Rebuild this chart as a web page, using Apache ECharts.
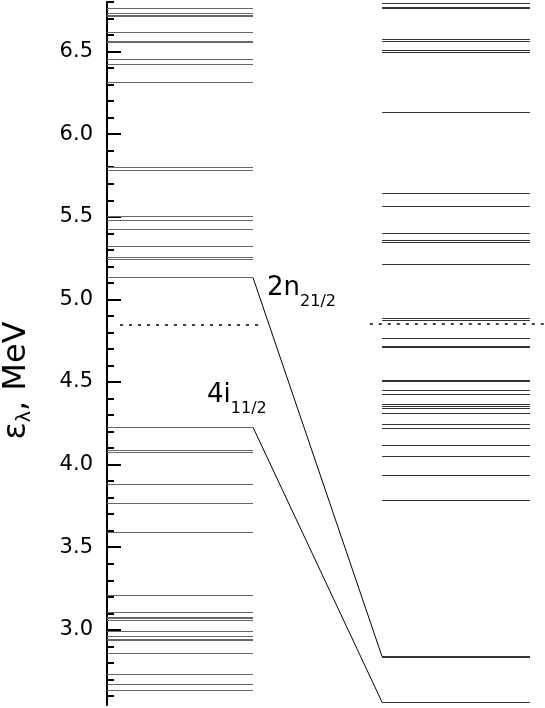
<!DOCTYPE html>
<html>
<head>
<meta charset="utf-8">
<script src="https://cdn.jsdelivr.net/npm/echarts@6/dist/echarts.min.js"></script>
<style>
html, body { margin: 0; padding: 0; background: #fff; }
#chart { width: 545px; height: 708px; }
</style>
</head>
<body>
<div id="chart"></div>
<script>
// single-particle level energies, MeV
const leftLevels = [6.763, 6.730, 6.720, 6.716, 6.617, 6.565, 6.558, 6.454, 6.424, 6.312,
  5.800, 5.784, 5.501, 5.479, 5.425, 5.323, 5.255, 5.241, 5.132, 4.226, 4.085, 4.073,
  3.881, 3.766, 3.591, 3.210, 3.107, 3.077, 3.071, 3.056, 2.992, 2.963, 2.940, 2.934,
  2.858, 2.731, 2.671, 2.636];
const rightLevels = [6.795, 6.768, 6.762, 6.575, 6.563, 6.510, 6.498, 6.135, 5.640, 5.562,
  5.403, 5.356, 5.346, 5.211, 4.886, 4.876, 4.763, 4.716, 4.712, 4.509, 4.505, 4.452,
  4.424, 4.367, 4.355, 4.341, 4.309, 4.245, 4.218, 4.117, 4.053, 3.938, 3.782, 2.842,
  2.835, 2.562];
const fermiLevels = [4.845, 4.853];          // left, right
const transitions = [[5.132, 2.838], [4.226, 2.562]];
const stateNames = ['2n', '4i'];
const stateSubs = ['21/2', '11/2'];
const stateLabelE = [5.07, 4.42];
const majorTicks = [3.0, 3.5, 4.0, 4.5, 5.0, 5.5, 6.0, 6.5];
const minorTicks = [2.6, 2.7, 2.8, 2.9, 3.0, 3.1, 3.2, 3.3, 3.4, 3.5, 3.6, 3.7, 3.8, 3.9,
  4.0, 4.1, 4.2, 4.3, 4.4, 4.5, 4.6, 4.7, 4.8, 4.9, 5.0, 5.1, 5.2, 5.3, 5.4, 5.5, 5.6,
  5.7, 5.8, 5.9, 6.0, 6.1, 6.2, 6.3, 6.4, 6.5, 6.6, 6.7, 6.8];

// layout (x in column units)
const colL = [0.0, 1.0], colR = [1.884, 2.897];
const fermiL = [0.089, 1.06], fermiR = [1.80, 3.0];
const labelX = [1.096, 0.685];
const FONT = 'DejaVu Sans';

function hline(levels, x) {
  return levels.map(e => ({ coords: [[x[0], e], [x[1], e]] }));
}

const chart = echarts.init(document.getElementById('chart'));
chart.setOption({
  animation: false,
  grid: { left: 107, right: 0, top: 2, bottom: 3, outerBoundsMode: 'none' },
  xAxis: { type: 'value', min: 0, max: 3, show: false },
  yAxis: [{
    type: 'value', min: 2.545, max: 6.8, position: 'left',
    axisLine: { show: true, lineStyle: { color: '#000', width: 2 } },
    axisTick: { show: true, inside: true, length: 14, customValues: majorTicks,
      lineStyle: { color: '#000', width: 2 } },
    axisLabel: { show: true, customValues: majorTicks, formatter: v => v.toFixed(1),
      fontFamily: FONT, fontSize: 21, color: '#000', margin: 14 },
    splitLine: { show: false },
    name: '{e|ε}{l|λ}{e|, MeV}',
    nameLocation: 'middle', nameRotate: 90, nameGap: 72,
    nameTextStyle: {
      padding: [0, 54, 0, 0],
      rich: {
        e: { fontFamily: FONT, fontSize: 32, color: '#000' },
        l: { fontFamily: FONT, fontSize: 19, color: '#000', padding: [18, 0, 0, 0] }
      }
    }
  }, {
    type: 'value', min: 2.545, max: 6.8, position: 'left',
    axisLine: { show: false },
    axisTick: { show: true, inside: true, length: 7, customValues: minorTicks,
      lineStyle: { color: '#000', width: 2 } },
    axisLabel: { show: false },
    splitLine: { show: false }
  }],
  series: [{
    type: 'lines', coordinateSystem: 'cartesian2d', silent: true,
    data: hline(leftLevels, colL),
    lineStyle: { color: '#666', width: 1, opacity: 1 }
  }, {
    type: 'lines', coordinateSystem: 'cartesian2d', silent: true,
    data: hline(rightLevels, colR),
    lineStyle: { color: '#333', width: 1, opacity: 1 }
  }, {
    type: 'lines', coordinateSystem: 'cartesian2d', silent: true,
    data: [{ coords: [[fermiL[0], fermiLevels[0]], [fermiL[1], fermiLevels[0]]] },
           { coords: [[fermiR[0], fermiLevels[1]], [fermiR[1], fermiLevels[1]]] }],
    lineStyle: { color: '#000', width: 1.5, opacity: 1, type: [3, 6] }
  }, {
    type: 'lines', coordinateSystem: 'cartesian2d', silent: true,
    data: transitions.map(t => ({ coords: [[colL[1], t[0]], [colR[0], t[1]]] })),
    lineStyle: { color: '#000', width: 1, opacity: 1 }
  }, {
    type: 'scatter', silent: true, symbolSize: 0,
    itemStyle: { opacity: 1 },
    data: stateNames.map((n, i) => [labelX[i], stateLabelE[i]]),
    label: {
      show: true, position: 'right', distance: 0, color: '#000',
      formatter: p => '{n|' + stateNames[p.dataIndex] + '}{s|' + stateSubs[p.dataIndex] + '}',
      rich: {
        n: { fontFamily: FONT, fontSize: 26, color: '#000' },
        s: { fontFamily: FONT, fontSize: 16, color: '#000', padding: [28, 0, 0, 0] }
      }
    }
  }]
});
</script>
</body>
</html>
